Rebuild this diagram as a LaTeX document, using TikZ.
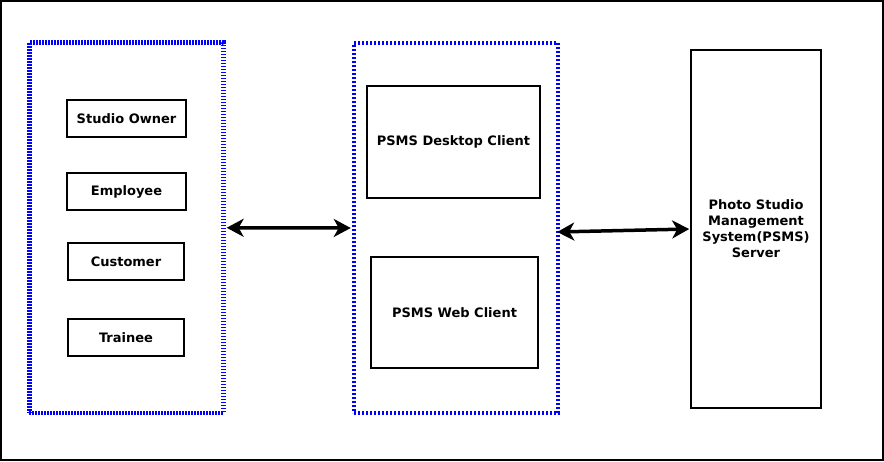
\documentclass[tikz,border=0pt]{standalone}
\usepackage{fontspec}
\setmainfont{DejaVu Sans}
\usepackage{tikz}
\usetikzlibrary{arrows.meta,positioning}

\begin{document}
\begin{tikzpicture}[x=1pt, y=-1pt, every node/.style={font=\fontsize{13}{16}\selectfont\bfseries}]

    % Styles for the boxes and links
    \tikzset{
        groupbox/.style={draw=blue, line width=4.5pt, inner sep=0pt},
        rolebox/.style={draw=black, line width=1.6pt, inner sep=0pt, align=center},
        link/.style={{Stealth[length=17pt,width=18pt,inset=5pt]}-{Stealth[length=17pt,width=18pt,inset=5pt]}, black, line width=3.5pt, shorten <=1pt, shorten >=1pt}
    }

    % Frame of the whole picture
    \useasboundingbox (0,0) rectangle (884,461);
    \draw[line width=2pt] (1,1) rectangle (883,460);

    % User group on the left
    \node[groupbox, dash pattern=on 1.5pt off 1.5pt, minimum width=194pt, minimum height=370.5pt] (users) at (126.4,227.75) {};
    \node[rolebox, minimum width=119pt, minimum height=37pt] (owner) at (126.5,118.5) {Studio Owner};
    \node[rolebox, minimum width=119pt, minimum height=37pt] (employee) at (126.5,191.5) {Employee};
    \node[rolebox, minimum width=116pt, minimum height=37pt] (customer) at (126,261.5) {Customer};
    \node[rolebox, minimum width=116pt, minimum height=37pt] (trainee) at (126,337.5) {Trainee};

    % Client group in the middle
    \node[groupbox, dash pattern=on 2pt off 2pt, minimum width=204pt, minimum height=370pt] (clients) at (456,228) {};
    \node[rolebox, minimum width=173pt, minimum height=112pt] (desktop) at (453.5,142) {PSMS Desktop Client};
    \node[rolebox, minimum width=167pt, minimum height=111pt] (web) at (454.5,312.5) {PSMS Web Client};

    % Server on the right
    \node[rolebox, minimum width=130pt, minimum height=358pt] (server) at (756,229) {Photo Studio\\Management\\System(PSMS)\\Server};

    % Links between the groups
    \draw[link] (users.east) -- (clients.west);
    \draw[link] ([xshift=-4pt,yshift=-4pt]clients.east) -- (server.west);

\end{tikzpicture}
\end{document}
